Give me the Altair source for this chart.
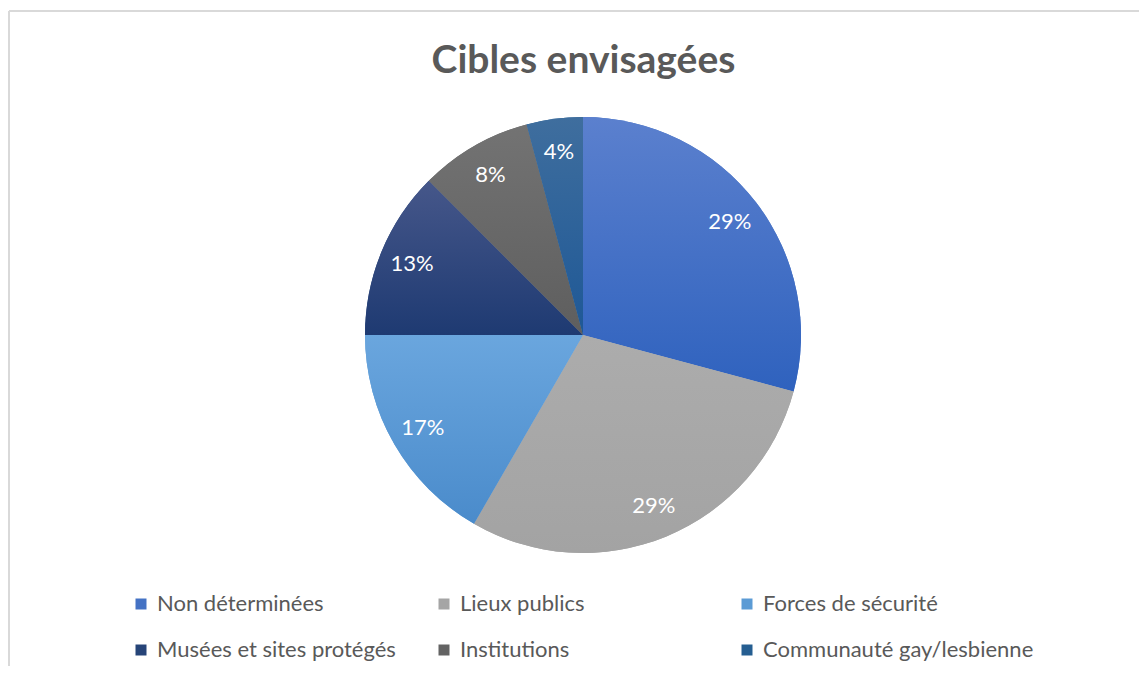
import altair as alt
import pandas as pd

categories = ["Non déterminées", "Lieux publics", "Forces de sécurité",
              "Musées et sites protégés", "Institutions", "Communauté gay/lesbienne"]
counts = [7, 7, 4, 3, 2, 1]
mid_colors = ["#4472C4", "#A5A5A5", "#5B9BD5", "#264478", "#636363", "#255E91"]
top_colors = ["#5B80CE", "#ACACAC", "#6AA6DE", "#46578A", "#737373", "#3F6E9E"]
bottom_colors = ["#2F62BE", "#A3A3A3", "#4A8BCB", "#1E3A72", "#5E5E5E", "#1E5896"]

df = pd.DataFrame({"cat": categories, "n": counts, "idx": list(range(len(categories)))})
frame_df = pd.DataFrame({"k": [0]})

W, H = 1131, 655
R = 218
CX, CY = 575, 324


def grad(top, bottom):
    return {"gradient": "linear", "x1": 0, "y1": 0, "x2": 0, "y2": 1,
            "stops": [{"offset": 0, "color": top}, {"offset": 1, "color": bottom}]}


conds = [{"test": f"datum.cat === '{c}'", "value": grad(t, b)}
         for c, t, b in zip(categories[:-1], top_colors[:-1], bottom_colors[:-1])]
fill_def = {"condition": conds, "value": grad(top_colors[-1], bottom_colors[-1])}

base = alt.Chart(df).transform_joinaggregate(total="sum(n)").transform_calculate(
    pct="datum.n / datum.total"
)

legend_layer = base.mark_arc(outerRadius=R, strokeWidth=0).encode(
    theta=alt.Theta("n:Q", stack=True),
    order=alt.Order("idx:Q"),
    color=alt.Color(
        "cat:N",
        scale=alt.Scale(domain=categories, range=mid_colors),
        sort=categories,
        legend=alt.Legend(
            title=None, orient="none", legendX=122, legendY=582,
            direction="horizontal",
            columns=3, columnPadding=5, rowPadding=24, gridAlign="all",
            symbolType="square", symbolSize=121, symbolStrokeWidth=0,
            labelFontSize=22, labelFont="Lato", labelColor="#595959",
            labelOffset=5, labelLimit=400, padding=0,
        ),
    ),
    x=alt.value(CX),
    y=alt.value(CY),
)

grad_layer = base.mark_arc(outerRadius=R, strokeWidth=0).encode(
    theta=alt.Theta("n:Q", stack=True),
    order=alt.Order("idx:Q"),
    detail="cat:N",
    fill=fill_def,
    x=alt.value(CX),
    y=alt.value(CY),
)

text_layer = base.mark_text(radius=185, fontSize=22, font="Lato", color="white").encode(
    theta=alt.Theta("n:Q", stack=True),
    order=alt.Order("idx:Q"),
    detail="cat:N",
    text=alt.Text("pct:Q", format=".0%"),
    x=alt.value(CX),
    y=alt.value(CY),
)

frame_top = alt.Chart(frame_df).mark_rule(color="#D9D9D9", strokeWidth=2).encode(
    x=alt.value(1), x2=alt.value(W), y=alt.value(0)
)
frame_left = alt.Chart(frame_df).mark_rule(color="#D9D9D9", strokeWidth=2).encode(
    x=alt.value(1), y=alt.value(0), y2=alt.value(H)
)

chart = alt.layer(frame_top, frame_left, legend_layer, grad_layer, text_layer).properties(
    width=W, height=H,
    padding={"left": 0, "top": 3, "right": 0, "bottom": 0},
    autosize=alt.AutoSizeParams(type="none"),
    title=alt.Title("Cibles envisagées", fontSize=39, font="Lato", fontWeight="bold",
                    color="#595959", anchor="middle", baseline="alphabetic",
                    offset=-102, dx=10),
).configure_view(stroke=None).configure(background="white")

chart.save("out.html", embed_options={"renderer": "svg", "actions": False})
